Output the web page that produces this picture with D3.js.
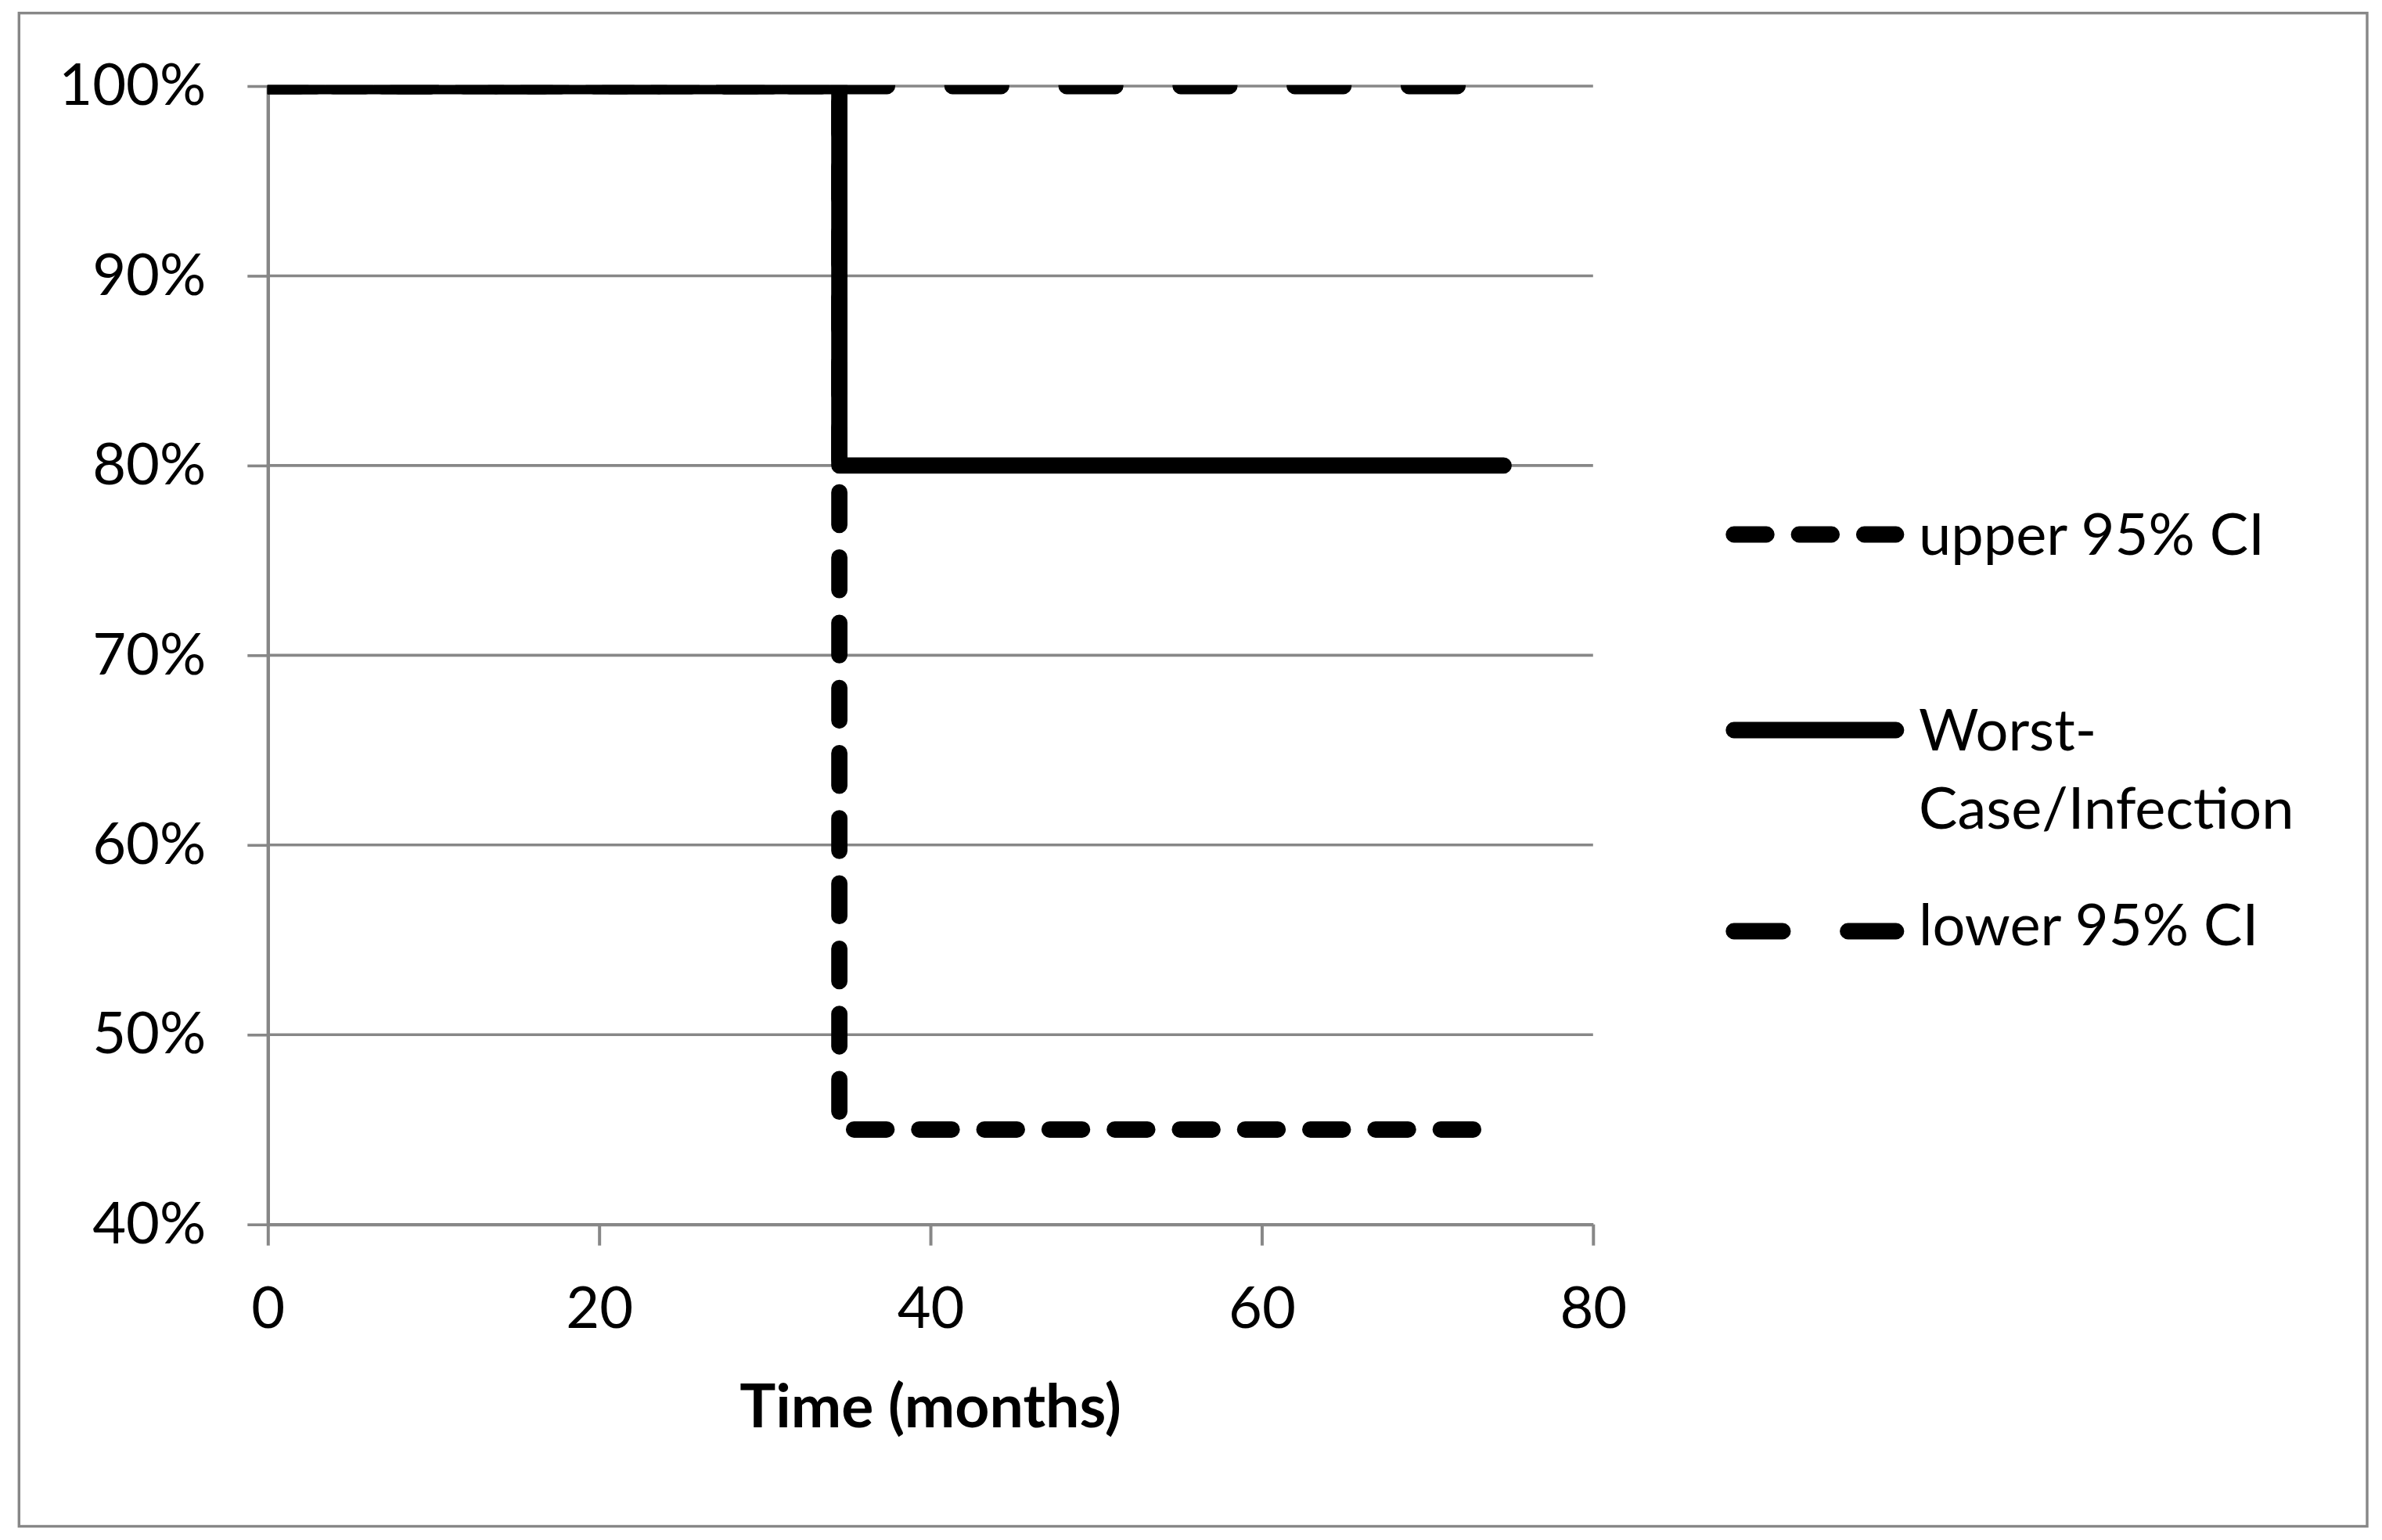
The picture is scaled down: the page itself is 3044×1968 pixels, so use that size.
<!DOCTYPE html>
<html>
<head>
<meta charset="utf-8">
<script src="https://cdn.jsdelivr.net/npm/d3@7"></script>
<style>
  html, body { margin: 0; padding: 0; background: #ffffff; }
  svg { display: block; }
  text { font-family: Lato, "Open Sans", "Noto Sans", sans-serif; fill: #000; }
</style>
</head>
<body>
<svg id="chart" width="3044" height="1968"></svg>
<script>
// ---------------- data ----------------
const timeMain  = [0, 34.5, 74.6];
const survMain  = [1.00, 0.80, 0.80];
const timeUpper = [0, 73];
const survUpper = [1.00, 1.00];
const timeLower = [0, 34.5, 73];
const survLower = [1.00, 0.45, 0.45];

const yTickValues = [0.4, 0.5, 0.6, 0.7, 0.8, 0.9, 1.0];
const yTickLabels = ["40%", "50%", "60%", "70%", "80%", "90%", "100%"];
const xTickValues = [0, 20, 40, 60, 80];
const xTickLabels = ["0", "20", "40", "60", "80"];
const xTitle = "Time (months)";
const legendNames = ["upper 95% CI", "Worst-Case/Infection", "lower 95% CI"];

// ---------------- layout ----------------
const W = 3044, H = 1968;
const plot = { left: 342.3, right: 2035.8, top: 110, bottom: 1564.7 };
const gray = "#878787";
const LW = 20.8;
const FS = 74;
const dashLong = [62.4, 83.4];   // 4:3 style
const dashShort = [41.65, 41.65]; // 3:1 style

const svg = d3.select("#chart");
svg.append("rect").attr("x", 0).attr("y", 0).attr("width", W).attr("height", H).attr("fill", "#fff");

// outer border
svg.append("rect")
  .attr("x", 24.3).attr("y", 16.7)
  .attr("width", 3025 - 24.3).attr("height", 1950.5 - 16.7)
  .attr("fill", "none").attr("stroke", gray).attr("stroke-width", 3.4);

const x = d3.scaleLinear().domain([0, 80]).range([plot.left, plot.right]);
const y = d3.scaleLinear().domain([0.4, 1.0]).range([plot.bottom, plot.top]);

// gridlines
svg.append("g").selectAll("line")
  .data(yTickValues.filter(v => v > 0.4))
  .join("line")
  .attr("x1", x(0)).attr("x2", x(80))
  .attr("y1", d => y(d)).attr("y2", d => y(d))
  .attr("stroke", gray).attr("stroke-width", 3.6);

// y axis
const yAxis = d3.axisLeft(y)
  .tickValues(yTickValues)
  .tickFormat((d, i) => yTickLabels[i])
  .tickSize(26).tickSizeOuter(0).tickPadding(53);
const gy = svg.append("g").attr("transform", `translate(${plot.left},0)`).call(yAxis);
gy.select(".domain").attr("stroke", gray).attr("stroke-width", 4.4);
gy.selectAll(".tick line").attr("stroke", gray).attr("stroke-width", 3.6);
gy.selectAll(".tick text").attr("font-size", FS).attr("font-family", "Lato").attr("fill", "#000");

// x axis
const xAxis = d3.axisBottom(x)
  .tickValues(xTickValues)
  .tickFormat((d, i) => xTickLabels[i])
  .tickSize(27).tickSizeOuter(0).tickPadding(53);
const gx = svg.append("g").attr("transform", `translate(0,${plot.bottom})`).call(xAxis);
gx.select(".domain").attr("stroke", gray).attr("stroke-width", 4.2);
gx.selectAll(".tick line").attr("stroke", gray).attr("stroke-width", 4);
gx.selectAll(".tick text").attr("font-size", FS).attr("font-family", "Lato").attr("fill", "#000");

// x title
svg.append("text")
  .attr("x", (plot.left + plot.right) / 2).attr("y", 1824)
  .attr("text-anchor", "middle")
  .attr("font-size", 77).attr("font-weight", "bold")
  .text(xTitle);

// clip for series
svg.append("clipPath").attr("id", "plotclip")
  .append("rect").attr("x", 341.7).attr("y", 108.7)
  .attr("width", 1900).attr("height", 1600);

const line = d3.line().x(d => x(d[0])).y(d => y(d[1])).curve(d3.curveStepAfter);
const toPts = (t, s) => t.map((v, i) => [v, s[i]]);

const series = [
  { pts: toPts(timeUpper, survUpper), dash: dashLong },
  { pts: toPts(timeMain, survMain), dash: null },
  { pts: toPts(timeLower, survLower), dash: dashShort }
];

const gs = svg.append("g").attr("clip-path", "url(#plotclip)");
series.forEach(s => {
  gs.append("path")
    .attr("d", line(s.pts))
    .attr("fill", "none")
    .attr("stroke", "#000")
    .attr("stroke-width", LW)
    .attr("stroke-linecap", "round")
    .attr("stroke-linejoin", "round")
    .attr("stroke-dasharray", s.dash ? s.dash.join(",") : null);
});

// legend
const legX1 = 2215.7, legX2 = 2423, legTextX = 2452;
const legendRows = [
  { name: legendNames[0], ly: 683, dash: dashShort, lines: ["upper 95% CI"], ty: 709 },
  { name: legendNames[1], ly: 933, dash: null, lines: ["Worst-", "Case/Infection"], ty: 959 },
  { name: legendNames[2], ly: 1190, dash: dashLong, lines: ["lower 95% CI"], ty: 1208 }
];
const lg = svg.append("g");
legendRows.forEach(r => {
  lg.append("line")
    .attr("x1", legX1).attr("x2", legX2).attr("y1", r.ly).attr("y2", r.ly)
    .attr("stroke", "#000").attr("stroke-width", LW)
    .attr("stroke-linecap", "round")
    .attr("stroke-dasharray", r.dash ? r.dash.join(",") : null);
  const t = lg.append("text").attr("x", legTextX).attr("y", r.ty).attr("font-size", FS);
  r.lines.forEach((ln, i) => {
    t.append("tspan").attr("x", legTextX).attr("dy", i === 0 ? 0 : 100).text(ln);
  });
});
</script>
</body>
</html>
